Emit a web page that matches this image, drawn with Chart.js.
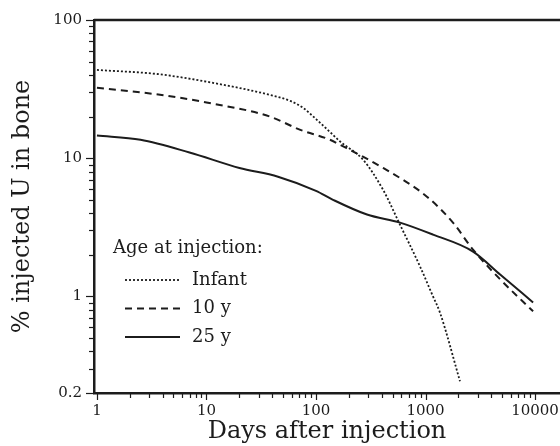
<!DOCTYPE html>
<html>
<head>
<meta charset="utf-8">
<script src="https://cdn.jsdelivr.net/npm/chart.js@4"></script>
<style>
  html, body { margin: 0; padding: 0; background: #fff; }
  #wrap { width: 560px; height: 446px; }
</style>
</head>
<body>
<div id="wrap"><canvas id="boneChart" width="560" height="446"></canvas></div>
<script>
// -----------------------------
// Data
// -----------------------------
const infantDays = [1, 3.5, 10, 38, 58, 76, 100, 134, 166, 269, 410, 585, 890, 1170, 1350, 2065];
const infantPct  = [43.5, 40.7, 35.8, 28.7, 26, 23.2, 19.2, 15.5, 13.2, 9.75, 5.9, 3.3, 1.65, 1.0, 0.77, 0.243];

const tenDays = [1, 3.5, 10, 38, 71, 134, 166, 410, 1030, 1780, 2715, 4800, 9600];
const tenPct  = [32.3, 29, 25.3, 20, 16.1, 13.6, 12.5, 8.5, 5.27, 3.42, 2.18, 1.33, 0.78];

const adultDays = [1, 2.5, 7, 20, 45, 100, 143, 292, 585, 1170, 2715, 4800, 9600];
const adultPct  = [14.6, 13.6, 11.0, 8.5, 7.35, 5.8, 5.0, 3.91, 3.42, 2.8, 2.11, 1.44, 0.905];

const xTickLabels = [1, 10, 100, 1000, 10000];
const yTickLabels = [0.2, 1, 10, 100];

const legendTitle = "Age at injection:";
const ink = "#1c1c1c";
const serif = "'DejaVu Serif', 'Liberation Serif', serif";


function toPoints(xs, ys) {
  return xs.map((x, i) => ({ x: x, y: ys[i] }));
}

// every 1..9 multiple of each decade inside [min, max]
function logTicks(scale) {
  const out = [];
  for (let e = -2; e <= 5; e++) {
    for (let m = 1; m <= 9; m++) {
      const v = +(m * Math.pow(10, e)).toPrecision(6);
      if (v >= scale.min - 1e-9 && v <= scale.max + 1e-9) out.push({ value: v });
    }
  }
  scale.ticks = out;
}


// -----------------------------
// Extra drawing: tick marks, top frame line, legend
// -----------------------------
const framePlugin = {
  id: "frame",
  afterDraw(chart) {
    const ctx = chart.ctx;
    const area = chart.chartArea;
    const xs = chart.scales.x;
    const ys = chart.scales.y;

    ctx.save();
    ctx.strokeStyle = ink;

    // tick marks
    ctx.lineWidth = 1.2;
    xs.ticks.forEach(t => {
      const px = Math.round(xs.getPixelForValue(t.value)) + 0.5;
      const len = xTickLabels.includes(t.value) ? 7 : 5;
      ctx.beginPath();
      ctx.moveTo(px, area.bottom);
      ctx.lineTo(px, area.bottom + len);
      ctx.stroke();
    });
    ys.ticks.forEach(t => {
      const py = Math.round(ys.getPixelForValue(t.value)) + 0.5;
      const len = yTickLabels.includes(t.value) ? 8 : 5;
      ctx.beginPath();
      ctx.moveTo(area.left, py);
      ctx.lineTo(area.left - len, py);
      ctx.stroke();
    });

    // top frame line
    ctx.lineWidth = 2.5;
    ctx.beginPath();
    ctx.moveTo(area.left, area.top);
    ctx.lineTo(area.right, area.top);
    ctx.stroke();

    // legend
    ctx.fillStyle = ink;
    ctx.font = "18px " + serif;
    ctx.textBaseline = "middle";
    ctx.textAlign = "left";
    ctx.fillText(legendTitle, 113, 248);

    chart.data.datasets.forEach((ds, i) => {
      const y = 280 + i * 28.5;
      ctx.lineWidth = ds.borderWidth;
      ctx.setLineDash(ds.borderDash || []);
      ctx.beginPath();
      ctx.moveTo(125, y);
      ctx.lineTo(180, y);
      ctx.stroke();
      ctx.setLineDash([]);
      ctx.fillText(ds.label, 192, y);
    });

    ctx.restore();
  }
};


// -----------------------------
// Chart
// -----------------------------
new Chart(document.getElementById("boneChart"), {
  type: "line",
  data: {
    datasets: [
      {
        label: "Infant",
        data: toPoints(infantDays, infantPct),
        borderColor: ink,
        borderWidth: 1.8,
        borderDash: [2, 2],
        pointRadius: 0,
        cubicInterpolationMode: "monotone",
        fill: false
      },
      {
        label: "10 y",
        data: toPoints(tenDays, tenPct),
        borderColor: ink,
        borderWidth: 2,
        borderDash: [7, 5],
        pointRadius: 0,
        cubicInterpolationMode: "monotone",
        fill: false
      },
      {
        label: "25 y",
        data: toPoints(adultDays, adultPct),
        borderColor: ink,
        borderWidth: 2,
        pointRadius: 0,
        cubicInterpolationMode: "monotone",
        fill: false
      }
    ]
  },
  options: {
    responsive: false,
    animation: false,
    devicePixelRatio: 1,
    layout: { padding: { top: 20, right: 0, left: 0, bottom: 0 } },
    plugins: {
      legend: { display: false },
      tooltip: { enabled: false }
    },
    scales: {
      x: {
        type: "logarithmic",
        min: 0.94,
        max: 16900,
        afterBuildTicks: logTicks,
        afterFit: s => { s.height = 53; s.paddingLeft = 0; s.paddingRight = 0; },
        grid: { display: false, drawTicks: false },
        border: { display: true, color: ink, width: 2.5 },
        ticks: {
          autoSkip: false,
          maxRotation: 0,
          padding: 9,
          color: ink,
          font: { family: serif, size: 15 },
          callback: v => xTickLabels.includes(v) ? String(v) : ""
        },
        title: {
          display: true,
          text: "Days after injection",
          color: ink,
          font: { family: serif, size: 24 },
          padding: { top: 0, bottom: 0 }
        }
      },
      y: {
        type: "logarithmic",
        min: 0.2,
        max: 100,
        afterBuildTicks: logTicks,
        afterFit: s => { s.width = 94; s.paddingTop = 0; s.paddingBottom = 0; },
        grid: { display: false, drawTicks: false },
        border: { display: true, color: ink, width: 2.5 },
        ticks: {
          autoSkip: false,
          padding: 12,
          color: ink,
          font: { family: serif, size: 15 },
          callback: v => yTickLabels.includes(v) ? String(v) : ""
        },
        title: {
          display: true,
          text: "% injected U in bone",
          color: ink,
          font: { family: serif, size: 24 },
          padding: { top: 8, bottom: 0 }
        }
      }
    }
  },
  plugins: [framePlugin]
});
</script>
</body>
</html>
